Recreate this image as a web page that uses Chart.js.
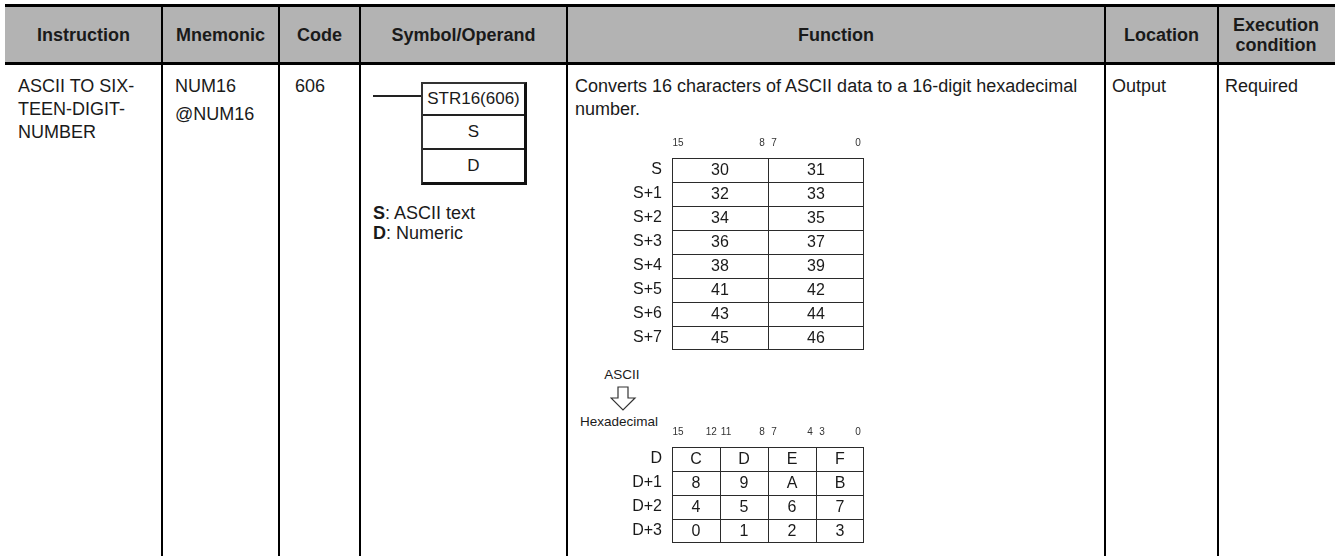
<!DOCTYPE html>
<html>
<head>
<meta charset="utf-8">
<title>NUM16 - ASCII TO SIXTEEN-DIGIT-NUMBER</title>
<script src="https://cdn.jsdelivr.net/npm/chart.js@4.4.1/dist/chart.umd.min.js"></script>
<style>
  html, body { margin: 0; padding: 0; background: #fff; }
  body {
    position: relative; width: 1339px; height: 556px; overflow: hidden;
    font-family: "Liberation Sans", Arial, sans-serif; color: #1a1a1a;
  }
  .head {
    position: absolute; left: 5px; top: 4px; width: 1330px; height: 61px; box-sizing: border-box;
    background: #b3b3b3; border-top: 3px solid #000; border-bottom: 3px solid #000;
  }
  .vline { position: absolute; top: 4px; width: 2px; height: 552px; background: #000; }
  .hcell {
    position: absolute; top: 7px; height: 55px; display: flex; align-items: center; justify-content: center;
    text-align: center; font-weight: bold; font-size: 18px; line-height: 20px; white-space: pre-line;
  }
  .cell { position: absolute; top: 75px; font-size: 18px; line-height: 23px; white-space: nowrap; }
  .cell .gap { margin-top: 5px; }
  .wire { position: absolute; left: 373px; top: 95px; width: 48px; height: 2px; background: #222; }
  .fbox {
    position: absolute; left: 421px; top: 82px; width: 106px; height: 103px; box-sizing: border-box;
    border-top: 2px solid #333; border-left: 2px solid #333; border-right: 3px solid #111; border-bottom: 3px solid #111;
    display: flex; flex-direction: column; font-size: 17px;
  }
  .fbox div { display: flex; align-items: center; justify-content: center; box-sizing: border-box; }
  .operands { position: absolute; left: 373px; top: 203px; font-size: 18px; line-height: 20px; }
  .small { position: absolute; font-size: 13.5px; line-height: 16px; }
  .chart-box { position: absolute; left: 600px; width: 278px; }
</style>
</head>
<body>
<div class="head"></div>
<div id="table"></div>
<div class="wire"></div>
<div class="fbox" id="fbox"></div>
<div class="operands" id="operands"></div>
<div class="small" id="from-label" style="left:592px; top:367px; width:60px; text-align:center;"></div>
<svg style="position:absolute; left:610px; top:385px;" width="30" height="28">
  <polygon points="8,2 18,2 18,13 25,13 13,25 1,13 8,13" fill="none" stroke="#333" stroke-width="1.2"/>
</svg>
<div class="small" id="to-label" style="left:580px; top:414px;"></div>
<div class="chart-box" style="top:130px; height:242px;"><canvas id="chart-source"></canvas></div>
<div class="chart-box" style="top:419px; height:146px;"><canvas id="chart-dest"></canvas></div>

<script>
// -- DATA ----------------------------------------------
const headers = ["Instruction", "Mnemonic", "Code", "Symbol/Operand", "Function", "Location", "Execution\ncondition"];
const instructionName = ["ASCII TO SIX-", "TEEN-DIGIT-", "NUMBER"];
const mnemonics = ["NUM16", "@NUM16"];
const codeText = "606";
const symbolRows = ["STR16(606)", "S", "D"];
const operands = [["S", "ASCII text"], ["D", "Numeric"]];
const functionText = ["Converts 16 characters of ASCII data to a 16-digit hexadecimal", "number."];
const locationText = "Output";
const conditionText = "Required";
const convertFrom = "ASCII";
const convertTo = "Hexadecimal";

// source words: two ASCII bytes per word
const sourceRows = ["S", "S+1", "S+2", "S+3", "S+4", "S+5", "S+6", "S+7"];
const sourceHigh = ["30", "32", "34", "36", "38", "41", "43", "45"];
const sourceLow = ["31", "33", "35", "37", "39", "42", "44", "46"];
const sourceBitTicks = [15, 8, 7, 0];
const byteBits = 8;

// destination words: four hex digits per word
const destRows = ["D", "D+1", "D+2", "D+3"];
const destDigit3 = ["C", "8", "4", "0"];
const destDigit2 = ["D", "9", "5", "1"];
const destDigit1 = ["E", "A", "6", "2"];
const destDigit0 = ["F", "B", "7", "3"];
const destBitTicks = [15, 12, 11, 8, 7, 4, 3, 0];
const digitBits = 4;

// -- LAYOUT --------------------------------------------
const FONT = "'Liberation Sans', Arial, sans-serif";
const TEXT = "#1a1a1a";
const GRID = "#2b2b2b";
const colEdges = [5, 162, 279, 360, 567, 1105, 1218, 1334];

function el(tag, cls, style, text) {
  const node = document.createElement(tag);
  if (cls) node.className = cls;
  if (style) node.style.cssText = style;
  if (text !== undefined) node.textContent = text;
  return node;
}

function buildTable() {
  const root = document.getElementById("table");
  headers.forEach((title, i) => {
    const left = colEdges[i];
    const width = colEdges[i + 1] - left;
    root.appendChild(el("div", "hcell", `left:${left}px;width:${width}px;`, title));
  });
  colEdges.slice(1, -1).forEach((x) => {
    root.appendChild(el("div", "vline", `left:${x - 1}px;`));
  });

  const instr = el("div", "cell", "left:18px;");
  instructionName.forEach((line) => instr.appendChild(el("div", "", "", line)));
  root.appendChild(instr);

  const mnem = el("div", "cell", "left:175px;");
  mnemonics.forEach((m, i) => mnem.appendChild(el("div", i ? "gap" : "", "", m)));
  root.appendChild(mnem);

  root.appendChild(el("div", "cell", "left:295px;", codeText));

  const func = el("div", "cell", "left:575px;");
  functionText.forEach((line) => func.appendChild(el("div", "", "", line)));
  root.appendChild(func);

  root.appendChild(el("div", "cell", "left:1112px;", locationText));
  root.appendChild(el("div", "cell", "left:1225px;", conditionText));

  const box = document.getElementById("fbox");
  const rowHeights = ["height:32px;border-bottom:2px solid #222;", "height:34px;border-bottom:2px solid #222;", "flex:1;"];
  symbolRows.forEach((label, i) => box.appendChild(el("div", "", rowHeights[i], label)));

  const ops = document.getElementById("operands");
  operands.forEach(([name, desc]) => {
    const line = el("div");
    line.appendChild(el("b", "", "", name));
    line.appendChild(document.createTextNode(": " + desc));
    ops.appendChild(line);
  });

  document.getElementById("from-label").textContent = convertFrom;
  document.getElementById("to-label").textContent = convertTo;
}

// -- CHARTS --------------------------------------------
const cellTextPlugin = {
  id: "cellText",
  afterDatasetsDraw(chart) {
    const { ctx } = chart;
    ctx.save();
    ctx.font = `16px ${FONT}`;
    ctx.fillStyle = TEXT;
    ctx.textAlign = "center";
    ctx.textBaseline = "middle";
    chart.data.datasets.forEach((ds, i) => {
      chart.getDatasetMeta(i).data.forEach((bar, j) => {
        const { x, y } = bar.getCenterPoint();
        ctx.fillText(ds.cellText[j], x, y + 1);
      });
    });
    ctx.restore();
  }
};

// two-digit bit numbers sitting right next to their neighbour get nudged apart
function bitLabel(bitTicks, index) {
  const bit = bitTicks[index];
  const next = bitTicks[index + 1];
  const label = String(bit);
  return next === bit - 1 && label.length > 1 ? label + "  " : label;
}

// fields are listed from bit 0 upward; x axis runs from bit 15 (left) to bit 0 (right)
function createWordChart(canvasId, rows, fields, bitTicks) {
  const ctx = document.getElementById(canvasId);
  const totalBits = fields.reduce((sum, f) => sum + f.bits, 0);
  const lastRow = rows.length - 1;

  return new Chart(ctx, {
    type: "bar",
    data: {
      labels: rows,
      datasets: fields.map((field, i) => ({
        data: rows.map(() => field.bits),
        cellText: field.texts,
        backgroundColor: "#ffffff",
        borderColor: GRID,
        borderWidth: (c) => ({ top: 1, left: 1, right: i === 0 ? 1 : 0, bottom: c.dataIndex === lastRow ? 1 : 0 }),
        borderSkipped: false,
        inflateAmount: 0,
        barPercentage: 1,
        categoryPercentage: 1
      }))
    },
    options: {
      indexAxis: "y",
      animation: false,
      responsive: true,
      maintainAspectRatio: false,
      events: [],
      layout: { padding: { top: 0, left: 0, right: 14, bottom: 22 } },
      scales: {
        x: {
          type: "linear",
          position: "top",
          stacked: true,
          reverse: true,
          min: 0,
          max: totalBits,
          grid: { display: false, drawTicks: false },
          border: { display: false },
          afterBuildTicks: (scale) => {
            scale.ticks = bitTicks.map((b) => ({ value: b + 0.5 }));
          },
          afterFit: (scale) => { scale.height = 28; },
          ticks: {
            autoSkip: false,
            maxRotation: 0,
            padding: 9,
            color: "#333",
            font: { size: 10, family: FONT },
            callback: (value, index) => bitLabel(bitTicks, index)
          }
        },
        y: {
          stacked: true,
          grid: { display: false, drawTicks: false },
          border: { display: false },
          afterFit: (scale) => { scale.width = 72; },
          ticks: { padding: 10, color: TEXT, font: { size: 16, family: FONT } }
        }
      },
      plugins: {
        legend: { display: false },
        tooltip: { enabled: false }
      }
    },
    plugins: [cellTextPlugin]
  });
}

// -- RENDER --------------------------------------------
buildTable();

if (typeof Chart !== "undefined") {
  createWordChart("chart-source", sourceRows, [
    { bits: byteBits, texts: sourceLow },
    { bits: byteBits, texts: sourceHigh }
  ], sourceBitTicks);

  createWordChart("chart-dest", destRows, [
    { bits: digitBits, texts: destDigit0 },
    { bits: digitBits, texts: destDigit1 },
    { bits: digitBits, texts: destDigit2 },
    { bits: digitBits, texts: destDigit3 }
  ], destBitTicks);
}
</script>
</body>
</html>
